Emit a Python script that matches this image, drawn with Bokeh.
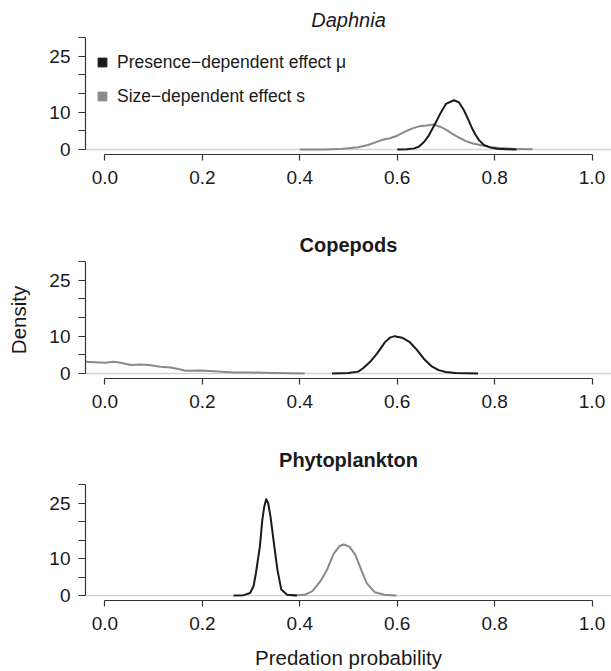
from bokeh.plotting import figure
from bokeh.models import (Range1d, FixedTicker, Span, Legend, LegendItem, Title,
                          ColumnDataSource)
from bokeh.layouts import column
from bokeh.embed import file_html
from bokeh.resources import INLINE

FONT = "Liberation Sans"
TEXT = "#1a1a1a"
BLACK = "#1a1a1a"
GREY = "#8a8a8a"
AXIS = "#333333"
ZERO = "#d4d4d4"

# ---------------- data ----------------
x_ticks = [0.0, 0.2, 0.4, 0.6, 0.8, 1.0]
x_tick_labels = ["0.0", "0.2", "0.4", "0.6", "0.8", "1.0"]
y_ticks = [0, 5, 10, 15, 20, 25, 30]
y_tick_labels = ["0", "", "10", "", "", "25", ""]

panel_titles = ["Daphnia", "Copepods", "Phytoplankton"]
legend_labels = ["Presence\u2212dependent effect \u03bc", "Size\u2212dependent effect s"]
x_label = "Predation probability"
y_label = "Density"

# Daphnia
daphnia_mu_x = [0.600, 0.620, 0.635, 0.645, 0.655, 0.665, 0.677, 0.690, 0.700, 0.7165,
                0.727, 0.737, 0.746, 0.754, 0.761, 0.768, 0.778, 0.792, 0.805, 0.825, 0.845]
daphnia_mu_y = [0.0, 0.05, 0.3, 0.8, 2.0, 3.8, 6.7, 10.0, 12.2, 13.2,
                12.6, 10.5, 8.0, 5.6, 3.9, 2.5, 1.2, 0.5, 0.2, 0.05, 0.0]
daphnia_s_x = [0.40, 0.45, 0.48, 0.50, 0.52, 0.54, 0.555, 0.57, 0.585, 0.60, 0.615, 0.63,
               0.645, 0.66, 0.675, 0.688, 0.70, 0.712, 0.725, 0.74, 0.755, 0.77, 0.79,
               0.81, 0.83, 0.85, 0.878]
daphnia_s_y = [0.0, 0.02, 0.1, 0.35, 0.6, 1.2, 1.9, 2.6, 3.0, 3.7, 4.7, 5.6,
               6.2, 6.4, 6.7, 6.1, 5.3, 4.3, 3.3, 2.3, 1.6, 1.2, 0.7,
               0.4, 0.25, 0.1, 0.05]

# Copepods
copepods_mu_x = [0.466, 0.50, 0.52, 0.53, 0.545, 0.56, 0.575, 0.585, 0.595, 0.61, 0.625,
                 0.64, 0.655, 0.67, 0.685, 0.70, 0.72, 0.745, 0.766]
copepods_mu_y = [0.0, 0.15, 0.5, 1.4, 3.2, 5.6, 8.4, 9.6, 10.0, 9.6, 8.5,
                 6.4, 3.9, 2.0, 0.9, 0.4, 0.15, 0.05, 0.0]
copepods_s_x = [-0.04, -0.02, 0.00, 0.018, 0.032, 0.053, 0.073, 0.09, 0.114, 0.135, 0.15,
                0.166, 0.196, 0.215, 0.233, 0.266, 0.30, 0.346, 0.38, 0.41]
copepods_s_y = [3.15, 3.0, 2.9, 3.15, 2.9, 2.25, 2.4, 2.3, 1.8, 1.6, 1.2,
                0.75, 0.8, 0.7, 0.55, 0.3, 0.25, 0.15, 0.08, 0.03]

# Phytoplankton
phyto_mu_x = [0.264, 0.285, 0.298, 0.305, 0.310, 0.318, 0.323, 0.327, 0.331, 0.335,
              0.340, 0.346, 0.354, 0.362, 0.374, 0.394]
phyto_mu_y = [0.0, 0.1, 0.7, 2.5, 6.1, 13.2, 20.4, 24.0, 26.0, 25.0,
              21.2, 15.0, 7.0, 1.6, 0.2, 0.0]
phyto_s_x = [0.384, 0.410, 0.426, 0.442, 0.456, 0.470, 0.482, 0.490, 0.502, 0.514,
             0.526, 0.537, 0.554, 0.574, 0.598]
phyto_s_y = [0.0, 0.2, 1.2, 3.8, 7.0, 11.4, 13.4, 13.8, 13.2, 11.0,
             7.0, 3.4, 0.9, 0.2, 0.0]

curves = [
    (daphnia_mu_x, daphnia_mu_y, daphnia_s_x, daphnia_s_y),
    (copepods_mu_x, copepods_mu_y, copepods_s_x, copepods_s_y),
    (phyto_mu_x, phyto_mu_y, phyto_s_x, phyto_s_y),
]

# ---------------- layout ----------------
heights = [225, 205, 241]
borders_top = [37, 36, 54]
borders_bottom = [71, 52, 70]
title_styles = ["italic", "bold", "bold"]
title_standoffs = [12.5, 10.9, 28]


def make_panel(i):
    mu_x, mu_y, s_x, s_y = curves[i]
    p = figure(width=611, height=heights[i], output_backend="svg", toolbar_location=None,
               x_range=Range1d(-0.04, 1.04), y_range=Range1d(-1.34, 30),
               min_border_left=85, min_border_right=0,
               min_border_top=borders_top[i], min_border_bottom=borders_bottom[i],
               outline_line_color=None, background_fill_color="white",
               border_fill_color="white")
    p.xgrid.visible = False
    p.ygrid.visible = False

    p.add_layout(Span(location=0, dimension="width", line_color=ZERO, line_width=1.3,
                      level="underlay"))

    src_s = ColumnDataSource(dict(x=s_x, y=s_y))
    src_mu = ColumnDataSource(dict(x=mu_x, y=mu_y))
    p.line("x", "y", source=src_s, line_color=GREY, line_width=2, line_join="round")
    p.line("x", "y", source=src_mu, line_color=BLACK, line_width=2, line_join="round")

    xa = p.xaxis[0]
    xa.ticker = FixedTicker(ticks=x_ticks)
    xa.major_label_overrides = {t: l for t, l in zip(x_ticks, x_tick_labels)}
    xa.bounds = (0, 1)
    ya = p.yaxis[0]
    ya.ticker = FixedTicker(ticks=y_ticks)
    ya.major_label_overrides = {t: l for t, l in zip(y_ticks, y_tick_labels)}
    ya.bounds = (0, 30)
    for ax, out, so in ((xa, 6, 10), (ya, 7, 8)):
        ax.axis_line_color = AXIS
        ax.axis_line_width = 1.2
        ax.major_tick_line_color = AXIS
        ax.major_tick_line_width = 1.2
        ax.major_tick_out = out
        ax.major_tick_in = 0
        ax.minor_tick_line_color = None
        ax.major_label_standoff = so
        ax.major_label_text_font = FONT
        ax.major_label_text_font_size = "19px"
        ax.major_label_text_color = TEXT
        ax.axis_label_text_font = FONT
        ax.axis_label_text_font_size = "20.5px"
        ax.axis_label_text_font_style = "normal"
        ax.axis_label_text_color = TEXT

    if i == 1:
        ya.axis_label = y_label
        ya.axis_label_standoff = 16
    if i == 2:
        xa.axis_label = x_label
        xa.axis_label_standoff = 13

    p.add_layout(Title(text=panel_titles[i], align="center", text_font=FONT,
                       text_font_size="20px", text_font_style=title_styles[i],
                       text_color=TEXT, standoff=title_standoffs[i]), "above")

    if i == 0:
        nan = float("nan")
        r_mu = p.scatter(x=[nan], y=[nan], marker="square", color=BLACK)
        r_s = p.scatter(x=[nan], y=[nan], marker="square", color=GREY)
        legend = Legend(items=[LegendItem(label=legend_labels[0], renderers=[r_mu]),
                               LegendItem(label=legend_labels[1], renderers=[r_s])],
                        location=(6, 47), padding=0, margin=0, spacing=12,
                        glyph_width=22, glyph_height=22, label_height=22,
                        label_standoff=4, border_line_color=None,
                        background_fill_alpha=0, label_text_font=FONT,
                        label_text_font_size="17.5px", label_text_color=TEXT)
        p.add_layout(legend, "center")
    return p


panels = [make_panel(i) for i in range(3)]
layout = column(*panels, spacing=0)
open("out.html", "w").write(file_html(layout, INLINE))
